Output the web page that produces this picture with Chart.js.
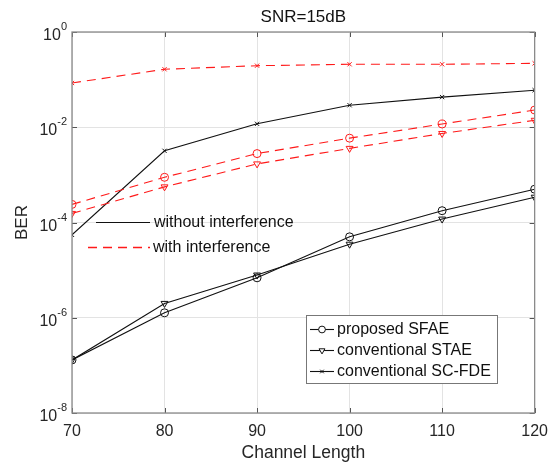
<!DOCTYPE html>
<html>
<head>
<meta charset="utf-8">
<script src="https://cdn.jsdelivr.net/npm/chart.js@4"></script>
<style>
  html, body { margin: 0; padding: 0; background: #fff; }
  #wrap { width: 557px; height: 464px; }
</style>
</head>
<body>
<div id="wrap"><canvas id="berChart" width="557" height="464"></canvas></div>
<script>
// channel lengths on the x axis
const channelLengths = [70, 80, 90, 100, 110, 120];
const yTickValues = [1e-8, 1e-6, 1e-4, 1e-2, 1e0];

// BER without interference
const sfaeClean = [1.3e-7, 1.27e-6, 6.9e-6, 5.0e-5, 1.77e-4, 5.0e-4];
const staeClean = [1.3e-7, 2.0e-6, 7.9e-6, 3.5e-5, 1.18e-4, 3.4e-4];
const scfdeClean = [5.5e-5, 3.2e-3, 0.0118, 0.029, 0.043, 0.060];

// BER with interference
const sfaeInterf = [2.4e-4, 8.9e-4, 2.8e-3, 5.9e-3, 0.0117, 0.023];
const staeInterf = [1.55e-4, 5.6e-4, 1.7e-3, 3.6e-3, 7.4e-3, 0.014];
const scfdeInterf = [0.085, 0.165, 0.196, 0.21, 0.21, 0.22];

const methodNames = ["proposed SFAE", "conventional STAE", "conventional SC-FDE"];
const conditionNames = ["without interference", "with interference"];

const RED = "#ff1a1a";
const BLACK = "#111";
const FONT = "'Liberation Sans', Arial, sans-serif";
const DASH = [9, 6];

function toPoints(arr) {
  return arr.map((v, i) => ({ x: channelLengths[i], y: v }));
}

function series(values, color, marker, dashed) {
  return {
    data: toPoints(values),
    borderColor: color,
    borderWidth: 1.1,
    borderDash: dashed ? DASH : [],
    pointStyle: marker,
    rotation: marker === "triangle" ? 180 : 0,
    pointRadius: marker === "crossRot" ? 3 : 4,
    pointBorderColor: color,
    pointBackgroundColor: "rgba(0,0,0,0)",
    pointBorderWidth: 1,
    fill: false,
    tension: 0
  };
}

function hLine(c, x1, x2, y, color, dash, width) {
  c.save();
  c.strokeStyle = color;
  c.lineWidth = width || 1.1;
  c.setLineDash(dash);
  c.beginPath();
  c.moveTo(x1, y);
  c.lineTo(x2, y);
  c.stroke();
  c.restore();
}

// draws box, inner ticks, title, axis labels and both legends
const matlabLook = {
  id: "matlabLook",
  afterDraw(chart) {
    const c = chart.ctx;
    const a = chart.chartArea;
    const xs = chart.scales.x;
    const ys = chart.scales.y;
    c.save();

    // inner tick marks
    c.strokeStyle = "#555";
    c.lineWidth = 1;
    c.beginPath();
    channelLengths.forEach(v => {
      const px = Math.round(xs.getPixelForValue(v)) + 0.5;
      c.moveTo(px, a.bottom); c.lineTo(px, a.bottom - 5);
      c.moveTo(px, a.top); c.lineTo(px, a.top + 5);
    });
    yTickValues.forEach(v => {
      const py = Math.round(ys.getPixelForValue(v)) + 0.5;
      c.moveTo(a.left, py); c.lineTo(a.left + 5, py);
      c.moveTo(a.right, py); c.lineTo(a.right - 5, py);
    });
    c.stroke();

    // axes box
    c.strokeStyle = "#8a8a8a";
    c.lineWidth = 1.3;
    c.strokeRect(a.left, a.top, a.right - a.left, a.bottom - a.top);

    // y tick labels 10^n
    c.fillStyle = "#262626";
    c.textBaseline = "alphabetic";
    yTickValues.forEach(v => {
      const py = ys.getPixelForValue(v);
      const exp = String(Math.round(Math.log10(v)));
      c.font = "11px " + FONT;
      c.textAlign = "right";
      const expW = c.measureText(exp).width;
      c.fillText(exp, a.left - 5, py - 2);
      c.font = "16px " + FONT;
      c.fillText("10", a.left - 5 - expW, py + 8);
    });

    // title
    c.fillStyle = "#111";
    c.textAlign = "center";
    c.textBaseline = "middle";
    c.font = "17px " + FONT;
    c.fillText("SNR=15dB", (a.left + a.right) / 2, 17);

    // x title
    c.fillStyle = "#262626";
    c.font = "17.5px " + FONT;
    c.fillText("Channel Length", (a.left + a.right) / 2, 453);

    // y title
    c.save();
    c.translate(22, (a.top + a.bottom) / 2);
    c.rotate(-Math.PI / 2);
    c.font = "17px " + FONT;
    c.fillText("BER", 0, 0);
    c.restore();

    // legend for interference condition (no box)
    c.textAlign = "left";
    c.font = "16px " + FONT;
    hLine(c, 96, 150, 222.5, BLACK, []);
    hLine(c, 88, 150, 247.5, RED, DASH, 1.3);
    c.fillStyle = "#111";
    c.fillText(conditionNames[0], 154, 223);
    c.fillText(conditionNames[1], 153, 248);

    // legend for methods
    const bx = 306, by = 315, bw = 191, bh = 68;
    c.fillStyle = "#fff";
    c.fillRect(bx, by, bw, bh);
    c.strokeStyle = "#777";
    c.lineWidth = 1;
    c.strokeRect(bx + 0.5, by + 0.5, bw, bh);
    const rowsY = [329, 350, 371];
    const styles = ["circle", "triangle", "crossRot"];
    rowsY.forEach((ry, i) => {
      hLine(c, 310, 334, ry + 0.5, BLACK, []);
      c.save();
      c.strokeStyle = BLACK;
      c.fillStyle = "#fff";
      c.lineWidth = 1;
      Chart.helpers.drawPoint(c, {
        pointStyle: styles[i],
        radius: styles[i] === "crossRot" ? 2.5 : 3.4,
        rotation: styles[i] === "triangle" ? 180 : 0,
        borderWidth: 1
      }, 322, ry + 0.5);
      c.restore();
      c.fillStyle = "#111";
      c.font = "16px " + FONT;
      c.fillText(methodNames[i], 337, ry + 1);
    });

    c.restore();
  }
};

const ctx = document.getElementById("berChart").getContext("2d");
new Chart(ctx, {
  type: "line",
  data: {
    datasets: [
      series(sfaeInterf, RED, "circle", true),
      series(staeInterf, RED, "triangle", true),
      series(scfdeInterf, RED, "crossRot", true),
      series(sfaeClean, BLACK, "circle", false),
      series(staeClean, BLACK, "triangle", false),
      series(scfdeClean, BLACK, "crossRot", false)
    ]
  },
  options: {
    responsive: false,
    animation: false,
    devicePixelRatio: 1,
    layout: { padding: { top: 32, right: 17, left: 0, bottom: 0 } },
    plugins: {
      legend: { display: false },
      title: { display: false },
      tooltip: { enabled: false }
    },
    scales: {
      x: {
        type: "linear",
        min: 70,
        max: 120,
        afterBuildTicks: s => { s.ticks = channelLengths.map(v => ({ value: v })); },
        afterFit: s => { s.height = 51; },
        grid: { color: "#e3e3e3", drawTicks: false, lineWidth: 1 },
        border: { display: false },
        ticks: {
          padding: 9,
          color: "#262626",
          font: { family: FONT, size: 16 },
          maxRotation: 0
        }
      },
      y: {
        type: "logarithmic",
        min: 1e-8,
        max: 1,
        afterBuildTicks: s => { s.ticks = yTickValues.map(v => ({ value: v })); },
        afterFit: s => { s.width = 72; },
        grid: { color: "#e3e3e3", drawTicks: false, lineWidth: 1 },
        border: { display: false },
        ticks: { display: false }
      }
    }
  },
  plugins: [matlabLook]
});
</script>
</body>
</html>
